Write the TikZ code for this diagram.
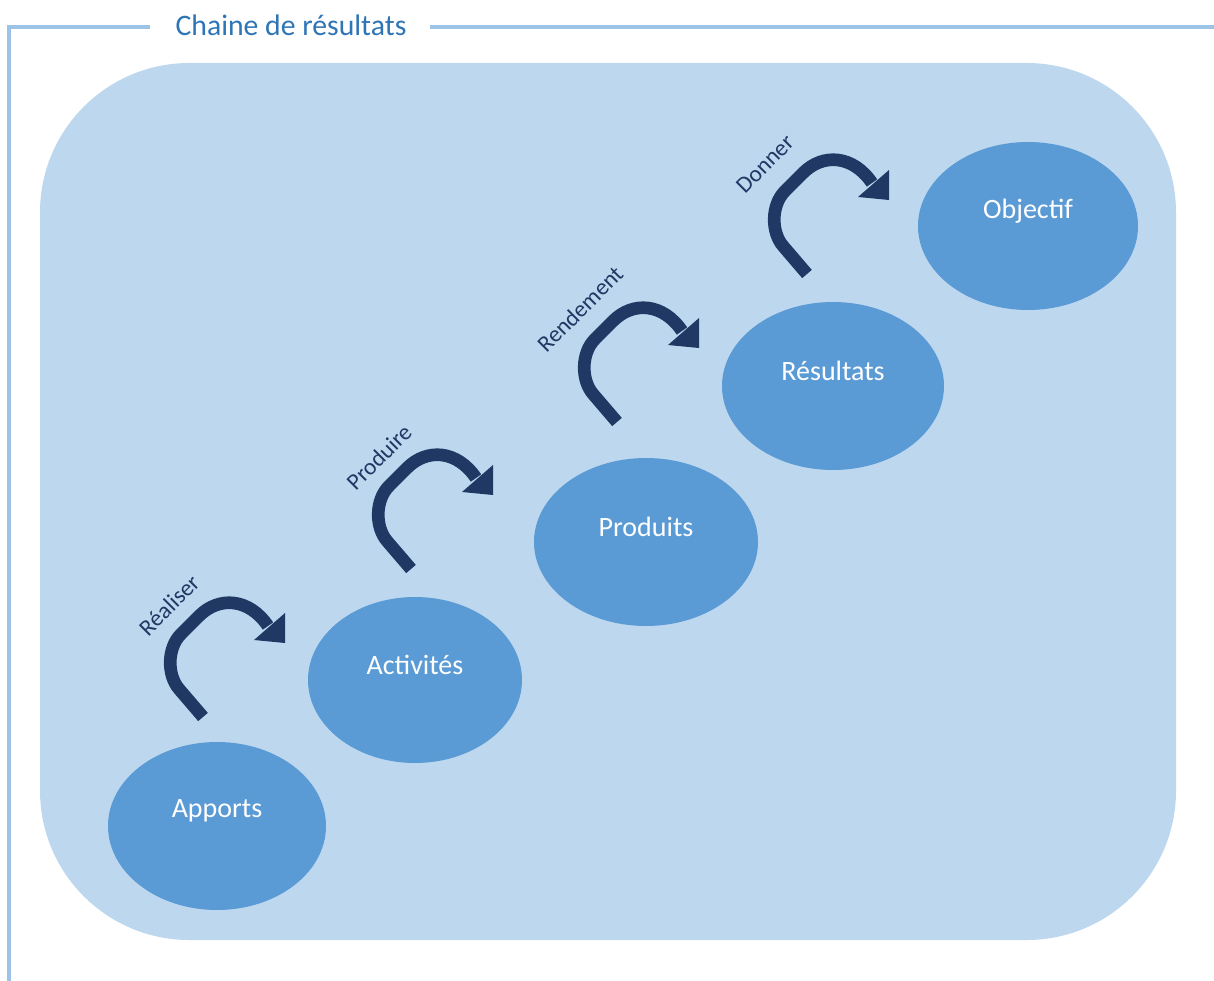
\documentclass[tikz,border=0pt]{standalone}
\usepackage{fontspec}
\setmainfont{Carlito}
\definecolor{frameblue}{HTML}{9DC3E6}
\definecolor{titleblue}{HTML}{2E75B6}
\definecolor{bgblue}{HTML}{BDD7EE}
\definecolor{ellblue}{HTML}{5B9BD5}
\definecolor{navy}{HTML}{203864}
\tikzset{
  stage/.style={ellipse, fill=ellblue, draw=none},
  stagetext/.style={text=white, font=\fontsize{21}{24}\selectfont, inner sep=0pt},
  verb/.style={text=navy, font=\fontsize{17.5}{20}\selectfont, rotate=45, inner sep=0pt},
  curvarrow/.pic={
    \draw[navy, line width=9.5pt, line cap=butt, line join=round]
      (0,0) -- (-24,-28) .. controls (-36,-42) and (-36,-69) .. (-22,-83)
      -- (-4,-101) .. controls (16,-121) and (46,-119) .. (65,-91);
    \fill[navy] (82,-104) -- (82,-74) -- (51,-77) -- cycle;
  }
}
\usetikzlibrary{shapes.geometric}
\begin{document}
\begin{tikzpicture}[x=0.75pt,y=-0.75pt]
\useasboundingbox (0,0) rectangle (1214,981);
% frame
\coordinate (fbl) at (9,981);
\coordinate (ftl) at (9,27);
\coordinate (fa) at (150,27);
\coordinate (fb) at (430,27);
\coordinate (fr) at (1214,27);
\draw[frameblue, line width=2.6pt] (fbl) -- (ftl) -- (fa);
\draw[frameblue, line width=2.6pt] (fb) -- (fr);
\node[text=titleblue, font=\fontsize{22.3}{26}\selectfont, inner sep=0pt] (title) at (291,25) {Chaine de résultats};
% background
\fill[bgblue, rounded corners=112pt] (40,63) rectangle (1176,940);
% stages
\node[stage, minimum width=218*0.75pt, minimum height=168*0.75pt] (apports) at (217,826) {};
\node[stage, minimum width=214*0.75pt, minimum height=166*0.75pt] (activites) at (415,680) {};
\node[stage, minimum width=224*0.75pt, minimum height=168*0.75pt] (produits) at (646,542) {};
\node[stage, minimum width=222*0.75pt, minimum height=168*0.75pt] (resultats) at (833,386) {};
\node[stage, minimum width=220*0.75pt, minimum height=168*0.75pt] (objectif) at (1028,226) {};
\node[stagetext] (tapports) at (217,811) {Apports};
\node[stagetext] (tactivites) at (415,665) {Activités};
\node[stagetext] (tproduits) at (646,527) {Produits};
\node[stagetext] (tresultats) at (833,371) {Résultats};
\node[stagetext] (tobjectif) at (1028,211) {Objectif};
% arrows
\pic at (203,717) {curvarrow};
\pic at (411,569) {curvarrow};
\pic at (617,422) {curvarrow};
\pic at (807,274) {curvarrow};
% verbs
\node[verb] (v1) at (169,605) {Réaliser};
\node[verb] (v2) at (379,457) {Produire};
\node[verb] (v3) at (580,309) {Rendement};
\node[verb] (v4) at (765,164) {Donner};
\end{tikzpicture}
\end{document}
